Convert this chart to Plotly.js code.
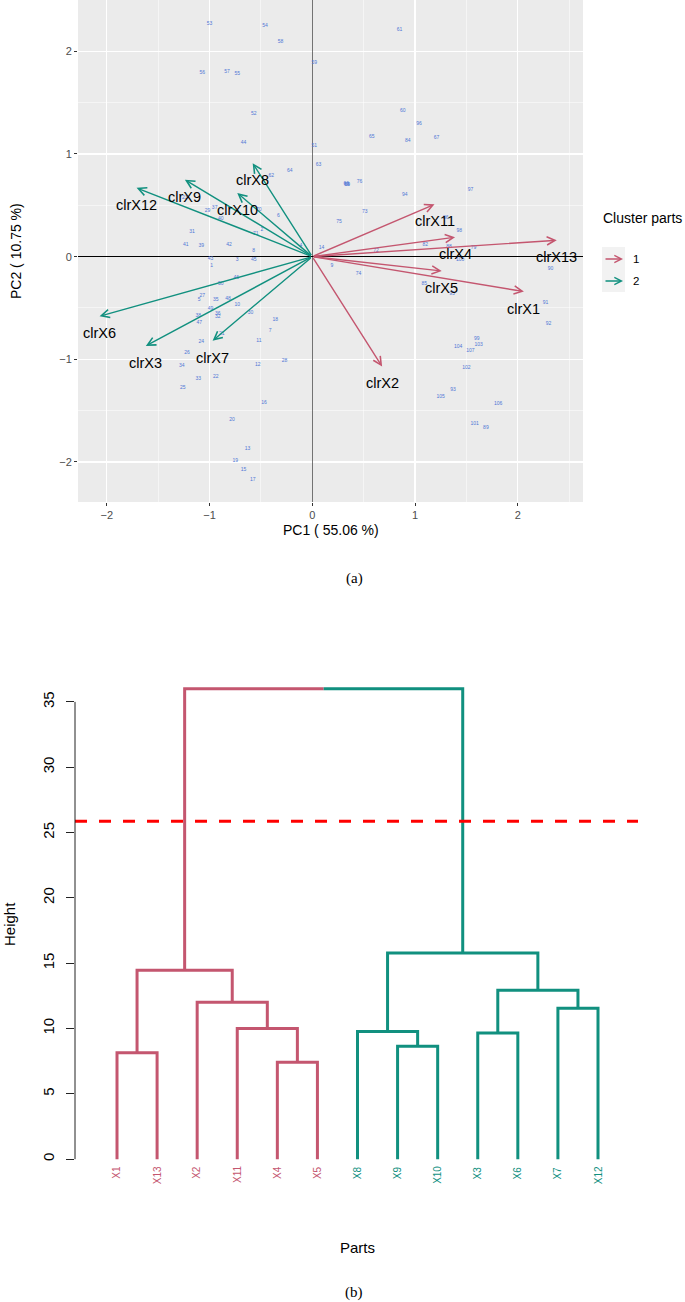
<!DOCTYPE html>
<html><head><meta charset="utf-8">
<script src="https://cdn.plot.ly/plotly-3.0.1.min.js"></script>
<style>html,body{margin:0;padding:0;background:#fff}#chart{width:685px;height:1302px}</style>
</head><body><div id="chart"></div>
<script>
// ---------- Panel (a): PCA biplot data ----------
const varNames   = ['clrX1','clrX2','clrX3','clrX4','clrX5','clrX6','clrX7','clrX8','clrX9','clrX10','clrX11','clrX12','clrX13'];
const varPC1     = [2.06, 0.68, -1.62, 1.39, 1.26, -2.07, -0.97, -0.58, -1.24, -0.73, 1.19, -1.71, 2.38];
const varPC2     = [-0.34, -1.07, -0.87, 0.19, -0.14, -0.58, -0.82, 0.91, 0.75, 0.62, 0.51, 0.67, 0.16];
const varCluster = [1, 1, 2, 1, 1, 2, 2, 2, 2, 2, 1, 2, 1];

const obsLabels = ['53','54','58','59','56','57','55','52','44','51','63','64','62','6','29','37','40','31','41','39','42','2','71','70','23','8','4','43','3','45','1','50','46','27','5','35','48','10','49','30','38','36','32','47','18','7','21','24','11','26','34','12','28','33','22','25','16','20','13','19','15','17',
 '61','60','96','65','84','67','66','68','69','76','94','97','73','75','14','98','86','82','88','79','72','100','9','74','90','85','95','91','92','99','104','103','107','102','93','105','106','101','89'];
const obsPC1 = [-1.00,-0.46,-0.31,0.02,-1.07,-0.83,-0.73,-0.57,-0.67,0.02,0.06,-0.22,-0.40,-0.33,-1.02,-0.95,-0.89,-1.17,-1.23,-1.08,-0.81,-0.49,-0.55,-0.52,-1.24,-0.57,-0.11,-0.99,-0.73,-0.57,-0.98,-0.89,-0.74,-1.07,-1.10,-0.94,-0.82,-0.73,-0.99,-0.60,-1.11,-0.92,-0.92,-1.10,-0.36,-0.41,-0.88,-1.08,-0.52,-1.22,-1.27,-0.53,-0.27,-1.11,-0.94,-1.26,-0.47,-0.78,-0.63,-0.75,-0.67,-0.58,
 0.85,0.88,1.04,0.58,0.93,1.21,0.33,0.335,0.34,0.46,0.90,1.54,0.51,0.26,0.09,1.43,1.30,1.10,1.33,1.57,0.62,1.44,0.19,0.45,2.32,1.09,1.36,2.27,2.30,1.60,1.42,1.62,1.54,1.50,1.37,1.25,1.81,1.58,1.69];
const obsPC2 = [2.27,2.25,2.09,1.89,1.79,1.80,1.78,1.39,1.11,1.08,0.90,0.84,0.79,0.40,0.45,0.48,0.37,0.24,0.12,0.11,0.12,0.26,0.22,0.46,0.57,0.06,0.11,-0.02,-0.03,-0.03,-0.09,-0.26,-0.21,-0.38,-0.42,-0.42,-0.41,-0.47,-0.51,-0.55,-0.58,-0.56,-0.59,-0.64,-0.61,-0.72,-0.75,-0.83,-0.82,-0.94,-1.06,-1.05,-1.01,-1.19,-1.17,-1.28,-1.42,-1.59,-1.87,-1.99,-2.08,-2.17,
 2.21,1.42,1.29,1.17,1.13,1.16,0.71,0.705,0.70,0.73,0.60,0.65,0.44,0.34,0.09,0.25,0.38,0.12,0.10,0.09,0.06,-0.03,-0.09,-0.17,-0.12,-0.26,-0.36,-0.45,-0.65,-0.80,-0.88,-0.86,-0.92,-1.08,-1.30,-1.36,-1.43,-1.63,-1.67];

const clusterNames = ['1','2'];

// ---------- Panel (b): dendrogram data ----------
const leafLabels  = ['X1','X13','X2','X11','X4','X5','X8','X9','X10','X3','X6','X7','X12'];
const leafCluster = [1,1,1,1,1,1,2,2,2,2,2,2,2];
// hclust-style merges: negative = leaf position, positive = earlier merge (1-based)
const mergeLeft   = [-5,-1,-8,-10,-7,-4,-12,-3, 4, 2, 5,10];
const mergeRight  = [-6,-2,-9,-11, 3, 1,-13, 6, 7, 8, 9,11];
const mergeHeight = [7.42,8.14,8.65,9.65,9.77,10.01,11.55,12.02,12.93,14.46,15.78,36.0];
const cutHeight   = 25.86;
const heightTicks = [0,5,10,15,20,25,30,35];

// ---------- styling ----------
const W = 685, H = 1302;
const COL = {1:'#C4566F', 2:'#11907F'};
const FONT = 'Liberation Sans, Arial, Helvetica, sans-serif';
const SERIF = 'Liberation Serif, Times New Roman, serif';
const px = v => v / W;
const py = v => (H - v) / H;

const traces = [];
const annotations = [];
const shapes = [];

// observation labels
traces.push({
  type:'scatter', mode:'text', x: obsPC1, y: obsPC2, text: obsLabels,
  textfont:{family:FONT, size:5, color:'#5077D6'}, xaxis:'x', yaxis:'y',
  hoverinfo:'skip', showlegend:false
});

// variable arrows + labels
varNames.forEach((n, i) => {
  annotations.push({
    xref:'x', yref:'y', axref:'x', ayref:'y',
    x: varPC1[i], y: varPC2[i], ax: 0, ay: 0, text:'',
    showarrow:true, arrowhead:5, arrowsize:1.15, arrowwidth:1.4, standoff:0,
    arrowcolor: COL[varCluster[i]]
  });
});
varNames.forEach((n, i) => {
  annotations.push({
    xref:'x', yref:'y', x: varPC1[i], y: varPC2[i], text: n, showarrow:false,
    xanchor:'center', yanchor:'middle',
    yshift:-17, font:{family:FONT, size:14.5, color:'#000'}
  });
});

// panel background (ggplot grey)
shapes.push({type:'rect', xref:'x domain', yref:'y domain', x0:0, x1:1, y0:0, y1:1,
  fillcolor:'#EBEBEB', line:{width:0}, layer:'below'});

// helper for paper-positioned text
const ptext = (x, y, text, font, extra) => Object.assign({xref:'paper', yref:'paper', x:px(x), y:py(y),
  text, showarrow:false, xanchor:'center', yanchor:'middle', font}, extra || {});

// legend (custom, arrow keys)
annotations.push(ptext(601, 218, 'Cluster parts', {family:FONT, size:14, color:'#000'}, {xanchor:'left'}));
shapes.push({type:'rect', xref:'paper', yref:'paper', x0:px(602), x1:px(625), y0:py(292), y1:py(247),
  fillcolor:'#F2F2F2', line:{width:0}});
clusterNames.forEach((c, k) => {
  const yy = 259 + k * 22;
  annotations.push({xref:'paper', yref:'paper', x:px(623), y:py(yy), ax:-19, ay:0, text:'',
    showarrow:true, arrowhead:5, arrowsize:1.0, arrowwidth:1.4, standoff:0, arrowcolor: COL[k+1]});
  annotations.push(ptext(631, yy, c, {family:FONT, size:11.5, color:'#000'}, {xanchor:'left'}));
});

// axis titles panel (a)
annotations.push(ptext(330.5, 530, 'PC1 ( 55.06 %)', {family:FONT, size:14, color:'#000'}));
annotations.push(ptext(16, 251, 'PC2 ( 10.75 %)', {family:FONT, size:14, color:'#000'}, {textangle:-90}));
annotations.push(ptext(354, 578, '(a)', {family:SERIF, size:15, color:'#000'}));

// ---------- dendrogram geometry from merges ----------
const merged = [];
const node = idx => {
  if (idx < 0) { const k = -idx; return {x:k, h:0, c:leafCluster[k-1]}; }
  return merged[idx-1];
};
const segs = {1:{x:[],y:[]}, 2:{x:[],y:[]}};
const addSeg = (c, xs, ys) => { segs[c].x.push(...xs, null); segs[c].y.push(...ys, null); };
mergeHeight.forEach((h, m) => {
  const L = node(mergeLeft[m]), R = node(mergeRight[m]);
  const xm = (L.x + R.x) / 2;
  if (L.c === R.c) {
    addSeg(L.c, [L.x, L.x, R.x, R.x], [L.h, h, h, R.h]);
  } else {
    addSeg(L.c, [L.x, L.x, xm], [L.h, h, h]);
    addSeg(R.c, [xm, R.x, R.x], [h, h, R.h]);
  }
  merged.push({x:xm, h:h, c:(L.c === R.c ? L.c : 0)});
});
[1,2].forEach(c => traces.push({
  type:'scatter', mode:'lines', x:segs[c].x, y:segs[c].y, xaxis:'x2', yaxis:'y2',
  line:{color:COL[c], width:3}, hoverinfo:'skip', showlegend:false, connectgaps:false
}));

leafLabels.forEach((lab, i) => {
  annotations.push({xref:'x2', yref:'y2', x:i+1, y:0, text:lab, showarrow:false, textangle:-90,
    xanchor:'center', yanchor:'top', yshift:-5, font:{family:FONT, size:10, color:COL[leafCluster[i]]}});
});

shapes.push({type:'line', xref:'x2 domain', x0:0, x1:1, yref:'y2', y0:cutHeight, y1:cutHeight,
  line:{color:'#FF0000', width:3, dash:'12px,12px'}});
shapes.push({type:'line', xref:'x2 domain', x0:0, x1:0, yref:'y2',
  y0:heightTicks[0], y1:heightTicks[heightTicks.length-1], line:{color:'#222', width:1}});

annotations.push(ptext(9, 924, 'Height', {family:FONT, size:15, color:'#000'}, {textangle:-90}));
annotations.push(ptext(357, 1247, 'Parts', {family:FONT, size:15, color:'#000'}));
annotations.push(ptext(354, 1292, '(b)', {family:SERIF, size:15, color:'#000'}));

const layout = {
  width:W, height:H, margin:{l:0, r:0, t:0, b:0},
  paper_bgcolor:'#fff', plot_bgcolor:'rgba(0,0,0,0)', showlegend:false,
  font:{family:FONT},
  xaxis:{domain:[px(78), px(583)], range:[-2.28, 2.635], anchor:'y', tickmode:'linear', tick0:0, dtick:1,
    ticks:'outside', ticklen:3, tickcolor:'#333', tickwidth:1,
    tickfont:{family:FONT, size:11, color:'#4D4D4D'},
    showgrid:true, gridcolor:'#FFFFFF', gridwidth:1.1,
    minor:{dtick:0.5, tick0:0, showgrid:true, gridcolor:'#FFFFFF', gridwidth:0.5, ticks:''},
    zeroline:true, zerolinecolor:'#555', zerolinewidth:0.8, showline:false, fixedrange:true},
  yaxis:{domain:[py(502), 1], range:[-2.39, 2.50], anchor:'x', tickmode:'linear', tick0:0, dtick:1,
    ticks:'outside', ticklen:3, tickcolor:'#333', tickwidth:1,
    tickfont:{family:FONT, size:11, color:'#4D4D4D'},
    showgrid:true, gridcolor:'#FFFFFF', gridwidth:1.1,
    minor:{dtick:0.5, tick0:0, showgrid:true, gridcolor:'#FFFFFF', gridwidth:0.5, ticks:''},
    zeroline:true, zerolinecolor:'#000', zerolinewidth:1.6, showline:false, fixedrange:true},
  xaxis2:{domain:[px(75), px(638)], range:[-0.048, 13.998], anchor:'y2',
    showticklabels:false, ticks:'', showgrid:false, zeroline:false, showline:false, fixedrange:true},
  yaxis2:{domain:[py(1178), py(670)], range:[-1.44, 37.44], anchor:'x2',
    tickmode:'array', tickvals:heightTicks, ticktext:heightTicks.map(String),
    ticks:'outside', ticklen:8, tickcolor:'#222', tickwidth:1, tickangle:-90, ticklabelstandoff:6,
    tickfont:{family:FONT, size:15, color:'#000'},
    showgrid:false, zeroline:false, showline:false, fixedrange:true},
  annotations, shapes
};

Plotly.newPlot('chart', traces, layout, {staticPlot:true, displayModeBar:false});
</script></body></html>
